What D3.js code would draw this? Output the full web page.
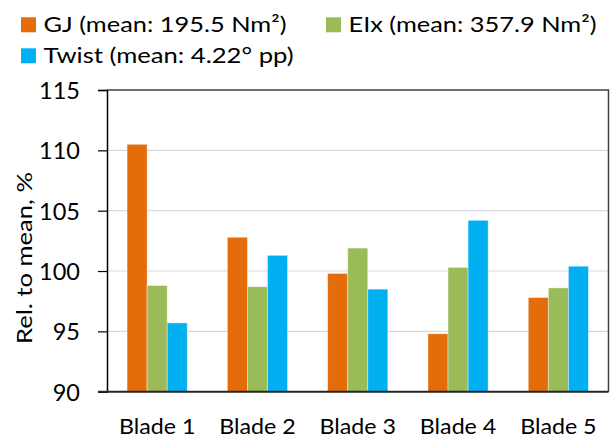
<!DOCTYPE html>
<html>
<head>
<meta charset="utf-8">
<script src="https://cdn.jsdelivr.net/npm/d3@7"></script>
<style>
  html, body { margin: 0; padding: 0; background: #fff; }
  svg { display: block; font-family: Lato, "Open Sans", sans-serif; }
</style>
</head>
<body>
<svg id="chart" width="613" height="440"></svg>
<script>
const categories = ["Blade 1", "Blade 2", "Blade 3", "Blade 4", "Blade 5"];
const seriesNames = ["GJ (mean: 195.5 Nm²)", "EIx (mean: 357.9 Nm²)", "Twist (mean: 4.22° pp)"];
const gjValues    = [110.5, 102.8, 99.8, 94.8, 97.8];
const eixValues   = [98.8, 98.7, 101.9, 100.3, 98.6];
const twistValues = [95.7, 101.3, 98.5, 104.2, 100.4];
const yTicks = [90, 95, 100, 105, 110, 115];
const colors = ["#E46C0A", "#9BBB59", "#00B0F0"];

const series = [gjValues, eixValues, twistValues];
const svg = d3.select("#chart");
const m = { left: 107, right: 608.5, top: 90, bottom: 391.7 };

const x0 = d3.scaleBand().domain(categories).range([m.left, m.right]).paddingInner(0.4).paddingOuter(0.2);
const x1 = d3.scaleBand().domain(d3.range(series.length)).range([0, x0.bandwidth()]);
const y = d3.scaleLinear().domain([90, 115]).range([m.bottom, m.top]);

// gridlines
svg.append("g").selectAll("line").data(yTicks.slice(1, -1)).join("line")
  .attr("x1", m.left).attr("x2", m.right)
  .attr("y1", d => y(d)).attr("y2", d => y(d))
  .attr("stroke", "#d9d9d9").attr("stroke-width", 1.2);

// bars
const groups = svg.append("g").selectAll("g").data(categories).join("g")
  .attr("transform", d => `translate(${x0(d)},0)`);
groups.selectAll("rect").data((c, ci) => series.map((s, si) => ({ si, v: s[ci] }))).join("rect")
  .attr("x", d => x1(d.si))
  .attr("width", x1.bandwidth())
  .attr("y", d => y(d.v))
  .attr("height", d => y(90) - y(d.v))
  .attr("fill", d => colors[d.si])
  .attr("stroke", "#ffffff").attr("stroke-opacity", 0.5).attr("stroke-width", 0.8);

// frame top & right
svg.append("path")
  .attr("d", `M${m.left},${m.top}H${m.right}V${m.bottom}`)
  .attr("fill", "none").attr("stroke", "#404040").attr("stroke-width", 1.5);

// y axis
const yAxis = svg.append("g").attr("transform", `translate(${m.left},0)`)
  .call(d3.axisLeft(y).tickValues(yTicks).tickSize(9).tickPadding(18));
yAxis.select(".domain").attr("stroke", "#000").attr("stroke-width", 1.5);
yAxis.selectAll(".tick line").attr("stroke", "#000").attr("stroke-width", 1.2);
yAxis.selectAll("text").attr("font-size", 23.5).attr("fill", "#000")
  .attr("font-family", "Lato, sans-serif").attr("dy", "0.36em");

// x axis
const xAxis = svg.append("g").attr("transform", `translate(0,${m.bottom})`)
  .call(d3.axisBottom(x0).tickSize(0).tickPadding(27.5));
xAxis.select(".domain").remove();
svg.append("line").attr("x1", m.left - 9).attr("x2", m.right)
  .attr("y1", m.bottom).attr("y2", m.bottom)
  .attr("stroke", "#262626").attr("stroke-width", 2);
xAxis.selectAll("text").attr("font-size", 21.5).attr("fill", "#000")
  .attr("font-family", "Lato, sans-serif")
  .attr("transform", "scale(1.08,1)");

// y title
svg.append("text")
  .attr("transform", `translate(32,258) rotate(-90)`)
  .attr("text-anchor", "middle")
  .attr("font-size", 21).attr("fill", "#000")
  .attr("textLength", 172).attr("lengthAdjust", "spacingAndGlyphs")
  .text("Rel. to mean, %");

// legend
const legendPos = [[21, 17.3], [326, 17.3], [21, 48.3]];
const legendWidths = [243, 248, 250];
const leg = svg.append("g").selectAll("g").data(seriesNames).join("g")
  .attr("transform", (d, i) => `translate(${legendPos[i][0]},${legendPos[i][1]})`);
leg.append("rect").attr("width", 15).attr("height", 15).attr("fill", (d, i) => colors[i]);
leg.append("text").attr("x", 22.5).attr("y", 15).attr("font-size", 21.5).attr("fill", "#000")
  .attr("textLength", (d, i) => legendWidths[i]).attr("lengthAdjust", "spacingAndGlyphs")
  .text(d => d);
</script>
</body>
</html>
